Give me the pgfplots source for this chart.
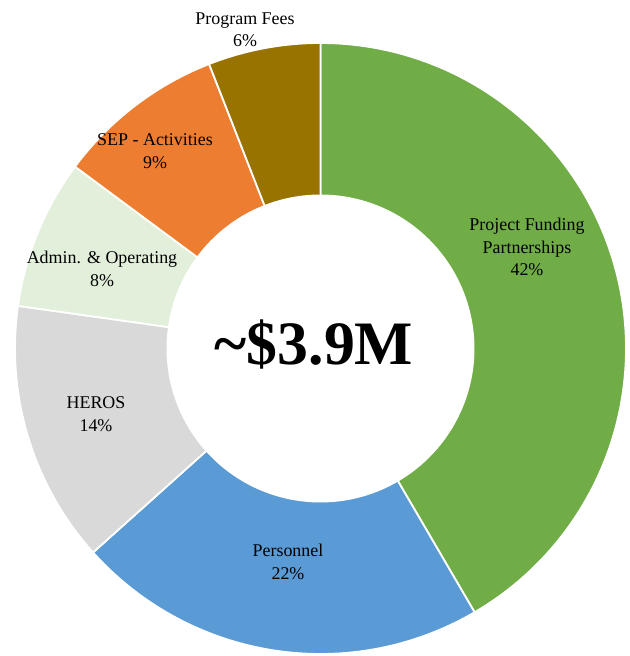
\documentclass[border=0pt]{standalone}
\usepackage{pgfplots}
\pgfplotsset{compat=1.18}
\usepackage{fontspec}
\setmainfont{Liberation Serif}
\definecolor{cProj}{HTML}{70AD47}
\definecolor{cPers}{HTML}{5B9BD5}
\definecolor{cHeros}{HTML}{D9D9D9}
\definecolor{cAdmin}{HTML}{E2EFDA}
\definecolor{cSep}{HTML}{ED7D31}
\definecolor{cFees}{HTML}{997300}
% shares in percent (labels), total 101
\def\vProj{42}\def\vPers{22}\def\vHeros{14}\def\vAdmin{8}\def\vSep{9}\def\vFees{6}
\pgfmathsetmacro\tot{\vProj+\vPers+\vHeros+\vAdmin+\vSep+\vFees}
\pgfmathsetmacro\aA{90}
\pgfmathsetmacro\aB{\aA-\vProj*360/\tot}
\pgfmathsetmacro\aC{\aB-\vPers*360/\tot}
\pgfmathsetmacro\aD{\aC-\vHeros*360/\tot}
\pgfmathsetmacro\aE{\aD-\vAdmin*360/\tot}
\pgfmathsetmacro\aF{\aE-\vSep*360/\tot}
\pgfmathsetmacro\aG{\aF-\vFees*360/\tot}
\def\cx{320.5}\def\cy{307.5}\def\rx{305.5}\def\ry{305.5}\def\ix{154}\def\iy{154}
\tikzset{lab/.style={font=\fontsize{18}{22.5}\selectfont, align=center, text=black, inner sep=0pt}}
\begin{document}
\begin{tikzpicture}
\begin{axis}[
  scale only axis, width=630bp, height=656bp,
  xmin=0, xmax=630, ymin=0, ymax=656,
  hide axis, clip=false,
]
\addplot[draw=none, forget plot] coordinates {(0,0) (630,656)};
\addplot[fill=cProj, draw=white, line width=1.8pt, domain=\aB:\aA, samples=120] ({\cx+\rx*cos(x)},{\cy+\ry*sin(x)}) -- (axis cs:\cx,\cy) -- cycle;
\addplot[fill=cPers, draw=white, line width=1.8pt, domain=\aC:\aB, samples=80] ({\cx+\rx*cos(x)},{\cy+\ry*sin(x)}) -- (axis cs:\cx,\cy) -- cycle;
\addplot[fill=cHeros, draw=white, line width=1.8pt, domain=\aD:\aC, samples=60] ({\cx+\rx*cos(x)},{\cy+\ry*sin(x)}) -- (axis cs:\cx,\cy) -- cycle;
\addplot[fill=cAdmin, draw=white, line width=1.8pt, domain=\aE:\aD, samples=40] ({\cx+\rx*cos(x)},{\cy+\ry*sin(x)}) -- (axis cs:\cx,\cy) -- cycle;
\addplot[fill=cSep, draw=white, line width=1.8pt, domain=\aF:\aE, samples=40] ({\cx+\rx*cos(x)},{\cy+\ry*sin(x)}) -- (axis cs:\cx,\cy) -- cycle;
\addplot[fill=cFees, draw=white, line width=1.8pt, domain=\aG:\aF, samples=40] ({\cx+\rx*cos(x)},{\cy+\ry*sin(x)}) -- (axis cs:\cx,\cy) -- cycle;
\addplot[fill=white, draw=none, domain=0:360, samples=160] ({\cx+\ix*cos(x)},{\cy+\iy*sin(x)}) -- cycle;
\node[lab] at (axis cs:245,626) {Program Fees\\6\%};
\node[lab] at (axis cs:155,505) {SEP - Activities\\9\%};
\node[lab] at (axis cs:102,387) {Admin. \& Operating\\8\%};
\node[lab] at (axis cs:96,242) {HEROS\\14\%};
\node[lab] at (axis cs:288,94) {Personnel\\22\%};
\node[lab] at (axis cs:527,409) {Project Funding\\Partnerships\\42\%};
\node[lab, anchor=base, font=\fontsize{62}{62}\selectfont\bfseries] at (axis cs:314,291) {\textasciitilde\$3.9M};
\end{axis}
\end{tikzpicture}
\end{document}
